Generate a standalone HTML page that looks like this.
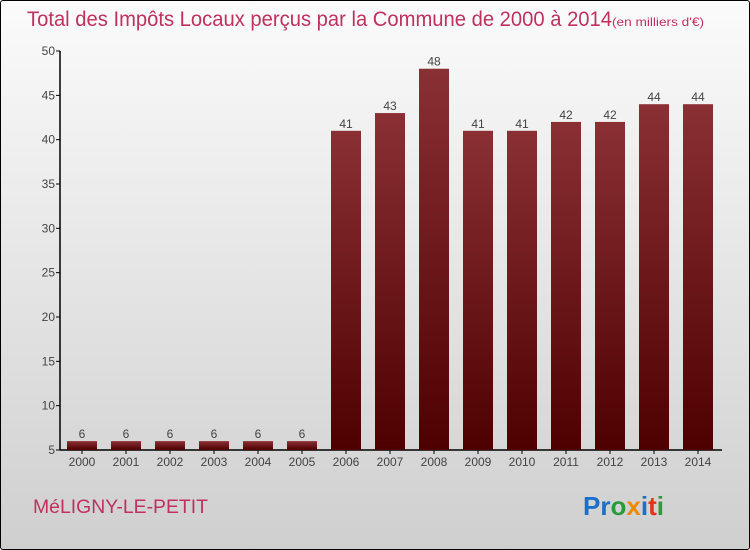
<!DOCTYPE html>
<html><head><meta charset="utf-8"><style>
body{margin:0}
#c{width:750px;height:550px;position:relative;box-sizing:border-box;border:1px solid #000;border-radius:3px;background:linear-gradient(#fbfbfb,#cfcfcf);font-family:"Liberation Sans",sans-serif;overflow:hidden}
</style></head><body>
<div id="c">
<svg width="750" height="550" id="s" style="position:absolute;left:-1px;top:-1px">
<defs><linearGradient id="g" x1="0" y1="0" x2="0" y2="1"><stop offset="0" stop-color="#8a3035"/><stop offset="1" stop-color="#4e0000"/></linearGradient></defs>
<text x="27" y="26" font-size="21" fill="#c0315f"><tspan textLength="585" lengthAdjust="spacingAndGlyphs">Total des Impôts Locaux perçus par la Commune de 2000 à 2014</tspan><tspan font-size="12" textLength="92" lengthAdjust="spacingAndGlyphs">(en milliers d'€)</tspan></text>
<text x="33" y="513" font-size="19" fill="#c0315f" textLength="175" lengthAdjust="spacingAndGlyphs">MéLIGNY-LE-PETIT</text>
<text x="583" y="515" font-size="26" font-weight="bold"><tspan fill="#1a6fc8">Pr</tspan><tspan fill="#2a9a3a">o</tspan><tspan fill="#f08a00">x</tspan><tspan fill="#1a6fc8">i</tspan><tspan fill="#e8301a">t</tspan><tspan fill="#2a9a3a">i</tspan></text>
<g id="plot"></g>
</svg>
</div>
<script>
const years=["2000","2001","2002","2003","2004","2005","2006","2007","2008","2009","2010","2011","2012","2013","2014"];
const values=[6,6,6,6,6,6,41,43,48,41,41,42,42,44,44];
const yTicks=[5,10,15,20,25,30,35,40,45,50];
const NS="http://www.w3.org/2000/svg";
const g=document.getElementById('plot');
const y=v=>450-(v-5)*(399/45);
const x=i=>82+i*44;
function mk(t,a,txt){const e=document.createElementNS(NS,t);for(const k in a)e.setAttribute(k,a[k]);if(txt!=null)e.textContent=txt;g.appendChild(e);return e;}
let ax=mk('line',{x1:60,y1:y(50),x2:60,y2:450,stroke:'#000','stroke-width':1.5});


let bx=mk('line',{x1:60,y1:450,x2:722,y2:450,stroke:'#000','stroke-width':1.5});


yTicks.forEach(t=>{
 let l=mk('line',{x1:56,x2:60,y1:y(t),y2:y(t),stroke:'#000'});
 
 
 let tx=mk('text',{x:55,y:y(t)+4,'font-size':12,fill:'#444','text-anchor':'end'},t);
 
 
});
years.forEach((yr,i)=>{
 const v=values[i];
 let r=mk('rect',{x:x(i)-15,y:y(v),width:30,height:450-y(v),fill:'url(#g)'});
 
 
 let vl=mk('text',{x:x(i),y:y(v)-3,'font-size':12,fill:'#444','text-anchor':'middle'},v);
 
 
 let tk=mk('line',{x1:x(i),x2:x(i),y1:450,y2:454,stroke:'#000'});
 
 
 let xl=mk('text',{x:x(i),y:466,'font-size':12,fill:'#444','text-anchor':'middle'},yr);
 
 
});
</script>
</body></html>
